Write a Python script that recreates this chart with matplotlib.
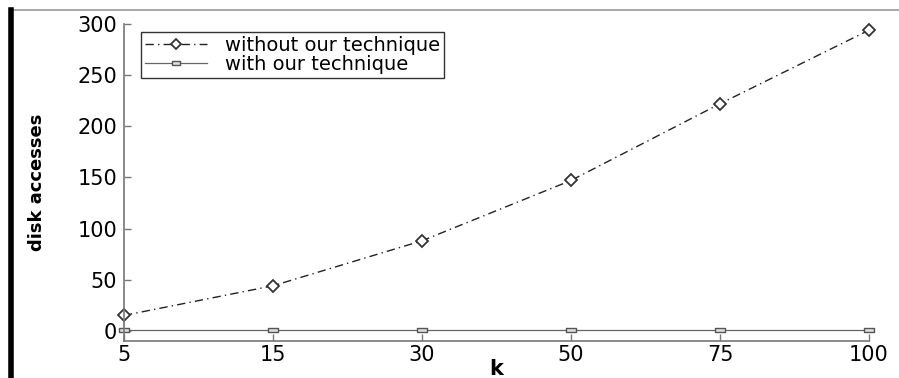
import matplotlib
matplotlib.use("Agg")
import matplotlib.pyplot as plt
from matplotlib.lines import Line2D

k_labels = ['5', '15', '30', '50', '75', '100']
without_technique = [15, 44, 88, 147, 222, 294]
with_technique = [1, 1, 1, 1, 1, 1]
y_ticks = [0, 50, 100, 150, 200, 250, 300]

plt.rcParams['font.family'] = ['DejaVu Sans']

fig = plt.figure(figsize=(8.99, 3.78), dpi=100)
ax = fig.add_axes([124/899, 1-341/378, (869-124)/899, (341-24)/378])

x = range(len(k_labels))
ax.plot(x, without_technique, color='#222222', lw=1.0, dashes=(6, 3, 1, 3),
        marker='D', markersize=6.5, markerfacecolor='white', markeredgecolor='#333333',
        markeredgewidth=1.3, clip_on=False, label='without our technique')
sq = [(-1, -0.5), (1, -0.5), (1, 0.5), (-1, 0.5), (-1, -0.5)]
ax.plot(x, with_technique, color='#666666', lw=0.9,
        marker=sq, markersize=7, markerfacecolor='#dddddd', markeredgecolor='#555555',
        markeredgewidth=1.0, clip_on=False, label='with our technique')

ax.set_xlim(0, len(k_labels) - 1)
ax.set_ylim(-10, 300)
ax.set_xticks(list(x))
ax.set_xticklabels(k_labels)
ax.set_yticks(y_ticks)

for side in ['top', 'right']:
    ax.spines[side].set_visible(False)
for side in ['left', 'bottom']:
    ax.spines[side].set_color('#777777')
    ax.spines[side].set_linewidth(1.2)
ax.tick_params(direction='in', length=5, width=1, color='#777777', labelsize=15)
ax.tick_params(axis='y', pad=5)
ax.tick_params(axis='x', pad=3)

ax.set_xlabel('k', fontsize=15, fontweight='bold', va='center')
ax.xaxis.set_label_coords(0.5, (341 - 369) / 317)
ax.set_ylabel('disk accesses', fontsize=13, fontweight='bold', va='center')
ax.yaxis.set_label_coords((37 - 124) / 745, 0.5)

leg = ax.legend(loc='upper left', bbox_to_anchor=(141/899, 1-32/378),
                bbox_transform=fig.transFigure, borderaxespad=0, fontsize=14,
                labelspacing=0.0, borderpad=0.2, handlelength=3.2,
                handletextpad=0.9, fancybox=False, framealpha=1, markerscale=0.75)
leg.get_frame().set_edgecolor('#333333')
leg.get_frame().set_linewidth(1.0)

# page border bits from the scan
fig.add_artist(Line2D([10/899, 1], [1-10/378, 1-10/378], color='#999999', lw=1.2))
fig.add_artist(Line2D([11/899, 11/899], [0, 1-10/378], color='black', lw=4))

fig.savefig('out.png', dpi=100)
